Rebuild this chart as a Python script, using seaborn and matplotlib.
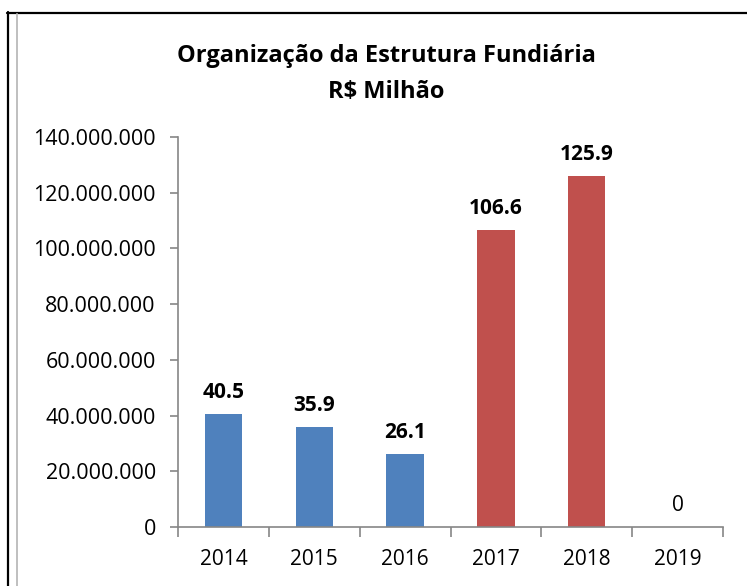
import matplotlib
matplotlib.use("Agg")
import matplotlib.pyplot as plt
from matplotlib.lines import Line2D
import seaborn as sns
import pandas as pd

# dados (R$)
anos = ["2014", "2015", "2016", "2017", "2018", "2019"]
valores = [40500000, 35900000, 26100000, 106600000, 125900000, 0]
rotulos = ["40.5", "35.9", "26.1", "106.6", "125.9", "0"]
cores = ["#4F81BD", "#4F81BD", "#4F81BD", "#C0504D", "#C0504D", "#C0504D"]

df = pd.DataFrame({"ano": anos, "valor": valores})

sns.set_style("white")
plt.rcParams['font.family'] = ['Open Sans', 'DejaVu Sans']
plt.rcParams['text.color'] = 'black'
plt.rcParams['xtick.color'] = 'black'
plt.rcParams['ytick.color'] = 'black'

fig = plt.figure(figsize=(7.47, 5.86), dpi=100)
ax = fig.add_axes([178 / 747, 1 - 527 / 586, (723 - 178) / 747, (527 - 137) / 586])

sns.barplot(data=df, x="ano", y="valor", hue="ano", palette=cores,
            legend=False, width=0.41, ax=ax, saturation=1, linewidth=0)

ax.set_xlim(-0.5, 5.5)
ax.set_ylim(0, 140000000)
ax.set_yticks(range(0, 140000001, 20000000))
ax.set_yticklabels([f"{int(v):,}".replace(",", ".") for v in ax.get_yticks()])
ax.set_xlabel("")
ax.set_ylabel("")

# ticks do eixo x nas divisas entre categorias
ax.set_xticks([i - 0.5 for i in range(7)], minor=True)
ax.tick_params(axis="x", which="both", bottom=True)
ax.tick_params(axis="x", which="minor", length=7, width=1.2, color="#868686", direction="out")
ax.tick_params(axis="x", which="major", length=0, pad=16, labelsize=15, labelcolor="black")
ax.tick_params(axis="y", left=True, length=6, width=1.2, color="#868686", direction="out",
               pad=10, labelsize=15.5, labelcolor="black")

for s in ["top", "right"]:
    ax.spines[s].set_visible(False)
for s in ["left", "bottom"]:
    ax.spines[s].set_color("#868686")
    ax.spines[s].set_linewidth(1.2)

# rótulos de dados
for i, (v, r) in enumerate(zip(valores, rotulos)):
    ax.annotate(r, (i, v), xytext=(0, 8), textcoords="offset points",
                ha="center", va="bottom", fontsize=15, color="black",
                fontweight="bold" if v > 0 else "normal")

fig.text(386 / 747, 1 - 56 / 586, "Organização da Estrutura Fundiária",
         ha="center", va="center", fontsize=17, fontweight="bold", color="black")
fig.text(386 / 747, 1 - 92 / 586, "R$ Milhão",
         ha="center", va="center", fontsize=17, fontweight="bold", color="black")

# moldura
fig.add_artist(Line2D([7.5 / 747, 7.5 / 747], [0, 1 - 12 / 586], color="black", lw=1.6))
fig.add_artist(Line2D([7 / 747, 1], [1 - 13 / 586, 1 - 13 / 586], color="black", lw=1.6))
fig.add_artist(Line2D([17 / 747, 17 / 747], [0, 1 - 14 / 586], color="#BFBFBF", lw=1.4))

fig.savefig("out.png", dpi=100, facecolor="white")
